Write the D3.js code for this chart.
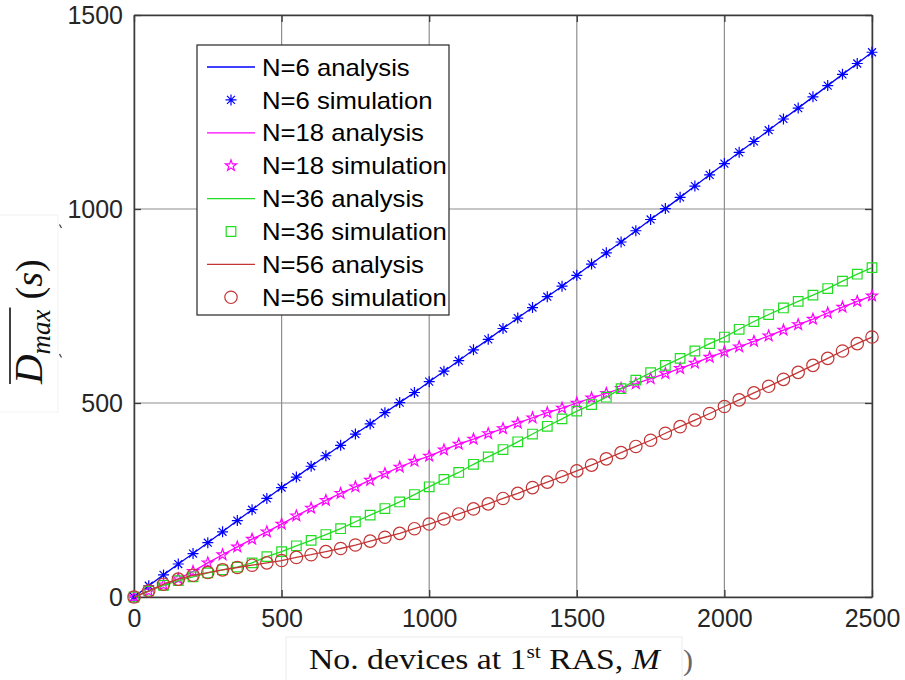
<!DOCTYPE html>
<html>
<head>
<meta charset="utf-8">
<script src="https://cdn.jsdelivr.net/npm/d3@7"></script>
<style>
  html, body { margin: 0; padding: 0; background: #fff; }
  svg { display: block; }
</style>
</head>
<body>
<svg id="chart" width="905" height="680"></svg>
<script>
// Number of devices at the first RAS (x values, one marker every 50 devices)
const devices = [0, 50, 100, 150, 200, 250, 300, 350, 400, 450, 500, 550, 600, 650, 700, 750,
  800, 850, 900, 950, 1000, 1050, 1100, 1150, 1200, 1250, 1300, 1350, 1400, 1450, 1500,
  1550, 1600, 1650, 1700, 1750, 1800, 1850, 1900, 1950, 2000, 2050, 2100, 2150, 2200,
  2250, 2300, 2350, 2400, 2450, 2500];

// Mean maximum delay (s) for each network size N
const delayN6 = [0, 29, 57, 85, 112, 140, 168, 197, 225, 254, 282, 309, 337, 364, 391, 420,
  446, 475, 501, 527, 555, 582, 609, 637, 664, 692, 719, 746, 774, 801, 829,
  858, 887, 915, 944, 973, 1001, 1030, 1059, 1088, 1117, 1146, 1174, 1203, 1232,
  1260, 1289, 1318, 1347, 1375, 1404];
const delayN18 = [0, 15, 31, 47, 66, 88, 109, 129, 149, 168, 188, 209, 229, 249, 267, 284,
  301, 318, 335, 350, 363, 379, 394, 407, 421, 434, 448, 462, 475, 487, 500,
  513, 525, 538, 550, 563, 576, 589, 603, 618, 632, 645, 659, 673, 688,
  702, 716, 732, 747, 762, 776];
const delayN36 = [0, 15, 30, 42, 52, 62, 70, 77, 88, 104, 117, 132, 146, 161, 176, 194,
  211, 228, 245, 264, 284, 303, 321, 342, 361, 380, 400, 420, 440, 459, 479,
  496, 515, 537, 559, 578, 597, 615, 634, 653, 670, 690, 710, 728, 745,
  762, 778, 795, 814, 832, 849];
const delayN56 = [0, 16, 33, 46, 56, 63, 70, 76, 82, 88, 94, 102, 109, 117, 125, 134,
  144, 154, 164, 176, 188, 201, 214, 227, 240, 254, 267, 282, 296, 310, 325,
  340, 356, 372, 388, 404, 422, 439, 456, 473, 491, 508, 526, 543, 561,
  579, 597, 615, 634, 653, 670];

const xTicks = [0, 500, 1000, 1500, 2000, 2500];
const yTicks = [0, 500, 1000, 1500];

const seriesNames = ["N=6", "N=18", "N=36", "N=56"];
const seriesData = [delayN6, delayN18, delayN36, delayN56];
const seriesColors = ["#0000ff", "#ff00ff", "#22dd22", "#c43535"];
const seriesMarkers = ["asterisk", "pentagram", "square", "circle"];

const svg = d3.select("#chart");
svg.append("rect").attr("width", 905).attr("height", 680).attr("fill", "#fff");

const plotLeft = 134, plotRight = 872, plotTop = 15, plotBottom = 597;
const x = d3.scaleLinear().domain([0, 2500]).range([plotLeft, plotRight]);
const y = d3.scaleLinear().domain([0, 1500]).range([plotBottom, plotTop]);

// grid
const grid = svg.append("g").attr("stroke", "#8e8e8e").attr("stroke-width", 1.2);
grid.selectAll(".gx").data(xTicks).join("line")
  .attr("x1", d => x(d)).attr("x2", d => x(d)).attr("y1", plotTop).attr("y2", plotBottom);
grid.selectAll(".gy").data(yTicks).join("line")
  .attr("y1", d => y(d)).attr("y2", d => y(d)).attr("x1", plotLeft).attr("x2", plotRight);

// axes with inward ticks on all four sides
const axisColor = "#3a3a3a";
const tickFont = "'Liberation Sans', Arial, sans-serif";
const plain = d3.format("d");
function styleAxis(g) {
  g.attr("font-family", null).attr("font-size", null);
  g.select(".domain").attr("stroke", axisColor).attr("stroke-width", 1.5);
  g.selectAll(".tick line").attr("stroke", axisColor).attr("stroke-width", 1.3);
  g.selectAll(".tick text").attr("fill", "#262626")
    .style("font-family", tickFont).style("font-size", "25px");
}
svg.append("g").attr("transform", `translate(0,${plotBottom})`)
  .call(d3.axisBottom(x).tickValues(xTicks).tickFormat(plain)
    .tickSizeInner(-7).tickSizeOuter(0).tickPadding(12))
  .call(styleAxis);
svg.append("g").attr("transform", `translate(0,${plotTop})`)
  .call(d3.axisTop(x).tickValues(xTicks).tickSizeInner(-7).tickSizeOuter(0).tickFormat(""))
  .call(styleAxis);
svg.append("g").attr("transform", `translate(${plotLeft},0)`)
  .call(d3.axisLeft(y).tickValues(yTicks).tickFormat(plain)
    .tickSizeInner(-7).tickSizeOuter(0).tickPadding(11))
  .call(styleAxis);
svg.append("g").attr("transform", `translate(${plotRight},0)`)
  .call(d3.axisRight(y).tickValues(yTicks).tickSizeInner(-7).tickSizeOuter(0).tickFormat(""))
  .call(styleAxis);

// marker shapes
function markerPath(kind) {
  if (kind === "asterisk") {
    const r = 5.5, d = r * 0.72;
    return `M${-r},0L${r},0M0,${-r}L0,${r}M${-d},${-d}L${d},${d}M${-d},${d}L${d},${-d}`;
  }
  if (kind === "pentagram") {
    const R = 5.8, ri = R * 0.4;
    const pts = d3.range(10).map(i => {
      const a = -Math.PI / 2 + i * Math.PI / 5, rr = i % 2 ? ri : R;
      return [rr * Math.cos(a), rr * Math.sin(a)];
    });
    return "M" + pts.map(p => p.join(",")).join("L") + "Z";
  }
  if (kind === "square") {
    const s = 4.8;
    return `M${-s},${-s}H${s}V${s}H${-s}Z`;
  }
  return d3.symbol(d3.symbolCircle, Math.PI * 6.2 * 6.2)();
}

const line = d3.line().x((d, i) => x(devices[i])).y(d => y(d));
const plot = svg.append("g");
seriesData.forEach((vals, k) => {
  const col = seriesColors[k];
  plot.append("path").datum(vals).attr("d", line)
    .attr("fill", "none").attr("stroke", col).attr("stroke-width", 1.3);
  plot.append("g").selectAll("path").data(vals).join("path")
    .attr("transform", (d, i) => `translate(${x(devices[i])},${y(d)})`)
    .attr("d", markerPath(seriesMarkers[k]))
    .attr("fill", "none").attr("stroke", col).attr("stroke-width", 1.2);
});

// legend
const legend = svg.append("g");
legend.append("rect").attr("x", 197).attr("y", 45).attr("width", 252).attr("height", 270)
  .attr("fill", "#fff").attr("stroke", "#262626").attr("stroke-width", 1.2);
const legendRows = [];
seriesNames.forEach((n, k) => {
  legendRows.push({ label: n + " analysis", k, type: "line" });
  legendRows.push({ label: n + " simulation", k, type: "marker" });
});
legendRows.forEach((row, i) => {
  const cy = 67 + i * 32.9;
  const col = seriesColors[row.k];
  if (row.type === "line") {
    legend.append("line").attr("x1", 207).attr("x2", 255).attr("y1", cy).attr("y2", cy)
      .attr("stroke", col).attr("stroke-width", 1.3);
  } else {
    legend.append("path").attr("transform", `translate(231,${cy})`)
      .attr("d", markerPath(seriesMarkers[row.k]))
      .attr("fill", "none").attr("stroke", col).attr("stroke-width", 1.2);
  }
  // labels are drawn slightly widened, as in the source figure
  legend.append("g").attr("transform", `translate(262,${cy}) scale(1.07,1)`)
    .append("text").attr("x", 0).attr("y", 0).attr("dy", "0.36em")
    .attr("fill", "#000").style("font-family", tickFont).style("font-size", "24px")
    .text(row.label);
});

// x-axis title on its own white panel
const serif = "'Liberation Serif', 'Times New Roman', serif";
svg.append("rect").attr("x", 286).attr("y", 637).attr("width", 396).attr("height", 44)
  .attr("fill", "#fff").attr("stroke", "#ececec").attr("stroke-width", 1);
const xtGroup = svg.append("g");
const xt = xtGroup.append("text").attr("x", 0).attr("y", 0)
  .style("font-family", serif).style("font-size", "30px").attr("fill", "#111");
xt.append("tspan").text("No. devices at 1");
xt.append("tspan").attr("dy", -11).style("font-size", "19px").text("st");
xt.append("tspan").attr("dy", 11).text(" RAS, ");
xt.append("tspan").style("font-style", "italic").text("M");
const xtWidth = xt.node().getComputedTextLength();
xtGroup.attr("transform", `translate(309,669) scale(${351 / xtWidth},1)`);
svg.append("text").attr("x", 683).attr("y", 670)
  .style("font-family", serif).style("font-size", "30px").attr("fill", "#666").text(")");

// y-axis title (rotated), on its own white panel
svg.append("rect").attr("x", -1).attr("y", 215).attr("width", 59).attr("height", 197)
  .attr("fill", "#fff").attr("stroke", "#f2f2f2").attr("stroke-width", 1);
const yl = svg.append("g").attr("transform", "translate(42,384) rotate(-90)");
const dText = yl.append("text").attr("x", 0).attr("y", 0)
  .style("font-family", serif).style("font-style", "italic").attr("fill", "#111");
dText.append("tspan").style("font-size", "41px").text("D");
dText.append("tspan").attr("dy", 8).style("font-size", "27px").text("max");
const dw = dText.node().getComputedTextLength();
yl.append("line").attr("x1", 0).attr("x2", dw + 2).attr("y1", -32).attr("y2", -32)
  .attr("stroke", "#111").attr("stroke-width", 1.6);
const sText = yl.append("text").attr("x", dw + 10).attr("y", 0)
  .style("font-family", serif).style("font-size", "38px").attr("fill", "#111");
sText.append("tspan").text("(");
sText.append("tspan").style("font-style", "italic").text("s");
sText.append("tspan").text(")");

// two small stray strokes beside the title panel
svg.append("path").attr("d", "M59.5,224.5L61.5,228 M59.5,354L61.5,357.5")
  .attr("stroke", "#444").attr("stroke-width", 1.3).attr("fill", "none");
</script>
</body>
</html>
